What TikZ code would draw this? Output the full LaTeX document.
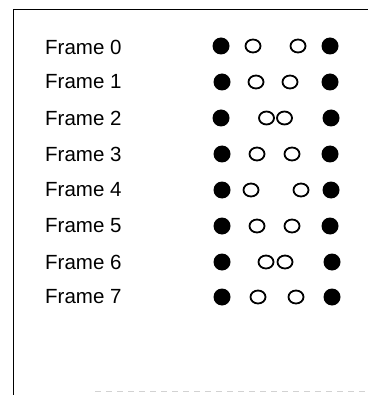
\documentclass[tikz,border=0pt]{standalone}
\usepackage{fontspec}
\setmainfont{Liberation Sans}
\usetikzlibrary{shapes.geometric, positioning}

\begin{document}
\begin{tikzpicture}[
    x=1pt, y=-1pt,
    font=\fontsize{20.5}{21}\selectfont,
    % Node styles for the frame rows
    framelabel/.style={anchor=west, inner sep=0pt},
    fulldot/.style={circle, fill=black, inner sep=0pt, minimum size=17pt},
    emptydot/.style={ellipse, draw=black, line width=1.8pt, fill=white, inner sep=0pt, minimum width=15pt, minimum height=13pt},
    % Box edges
    boxline/.style={draw=black, line width=1pt},
    fadeline/.style={draw=gray!35, line width=1pt, dashed, dash pattern=on 6pt off 5pt}
]
\useasboundingbox (0,0) rectangle (368,395);

% -----------------------------------------------------------
% Frame labels
% -----------------------------------------------------------
\node[framelabel] (f0) at (45, 47) {Frame 0};
\node[framelabel] (f1) at (45, 82) {Frame 1};
\node[framelabel] (f2) at (45, 118) {Frame 2};
\node[framelabel] (f3) at (45, 154) {Frame 3};
\node[framelabel] (f4) at (45, 190) {Frame 4};
\node[framelabel] (f5) at (45, 226) {Frame 5};
\node[framelabel] (f6) at (45, 262) {Frame 6};
\node[framelabel] (f7) at (45, 297) {Frame 7};

% -----------------------------------------------------------
% Dots per frame (outer solid, inner open)
% -----------------------------------------------------------
\node[fulldot] (d0a) at (221, 46) {};
\node[emptydot] (d0b) at (253, 46) {};
\node[emptydot] (d0c) at (298, 46) {};
\node[fulldot] (d0d) at (330, 46) {};

\node[fulldot] (d1a) at (222, 82) {};
\node[emptydot] (d1b) at (256, 82) {};
\node[emptydot] (d1c) at (290, 82) {};
\node[fulldot] (d1d) at (330, 82) {};

\node[fulldot] (d2a) at (221, 118) {};
\node[emptydot] (d2b) at (266.5, 118) {};
\node[emptydot, fill=none] (d2c) at (284.5, 118) {};
\node[fulldot] (d2d) at (331, 118) {};

\node[fulldot] (d3a) at (222, 154) {};
\node[emptydot] (d3b) at (257, 154) {};
\node[emptydot] (d3c) at (292, 154) {};
\node[fulldot] (d3d) at (330, 154) {};

\node[fulldot] (d4a) at (222, 190) {};
\node[emptydot] (d4b) at (251, 190) {};
\node[emptydot] (d4c) at (301, 190) {};
\node[fulldot] (d4d) at (331, 190) {};

\node[fulldot] (d5a) at (222, 226) {};
\node[emptydot] (d5b) at (257, 226) {};
\node[emptydot] (d5c) at (292, 226) {};
\node[fulldot] (d5d) at (330, 226) {};

\node[fulldot] (d6a) at (222, 262) {};
\node[emptydot] (d6b) at (266, 262) {};
\node[emptydot, fill=none] (d6c) at (285, 262) {};
\node[fulldot] (d6d) at (332, 262) {};

\node[fulldot] (d7a) at (222, 297) {};
\node[emptydot] (d7b) at (258, 297) {};
\node[emptydot] (d7c) at (296, 297) {};
\node[fulldot] (d7d) at (332, 297) {};

% -----------------------------------------------------------
% Box outline (left and top edges, faint bottom)
% -----------------------------------------------------------
\draw[boxline] (13, 395) |- (368, 10);
\draw[fadeline] (95, 391) -- (368, 391);

\end{tikzpicture}
\end{document}
